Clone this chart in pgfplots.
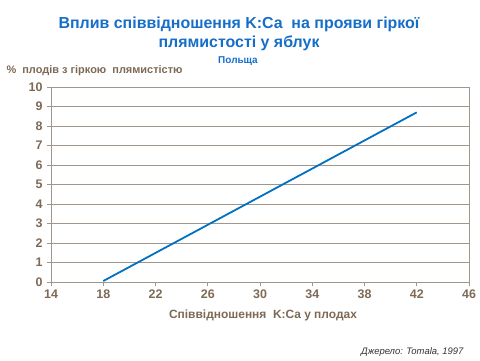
\documentclass[border=0pt]{standalone}
\usepackage{fontspec}
\setmainfont{Liberation Sans}
\usepackage{pgfplots}
\pgfplotsset{compat=1.18}
\definecolor{titleblue}{RGB}{22,110,200}
\definecolor{lineblue}{RGB}{0,112,192}
\definecolor{labcol}{RGB}{125,105,85}
\definecolor{gridcol}{RGB}{160,150,140}
\begin{document}
\begin{tikzpicture}[x=1bp,y=1bp]
\useasboundingbox (0,0) rectangle (480,360);
\begin{axis}[
  at={(51bp,78bp)}, anchor=south west,
  scale only axis, width=418bp, height=195bp,
  xmin=14, xmax=46, ymin=0, ymax=10,
  xtick={14,18,...,46}, ytick={0,1,...,10},
  ymajorgrids, grid style={gridcol, line width=0.6pt},
  axis line style={gridcol, line width=0.8pt},
  tick style={gridcol, line width=0.8pt},
  tick align=outside, major tick length=4bp,
  xtick pos=bottom, ytick pos=left,
  /pgf/number format/assume math mode=true,
  tick label style={font=\bfseries\fontsize{12.5}{14}\selectfont, text=labcol},
  yticklabel style={xshift=-1bp},
]
\addplot[lineblue, line width=1.8pt] coordinates {(18,0.05) (42,8.7)};
\end{axis}
\node[font=\bfseries\fontsize{16}{19}\selectfont, text=titleblue, align=center] at (239,326) {Вплив співвідношення K:Ca\ \ на прояви гіркої\\плямистості у яблук};
\node[font=\bfseries\fontsize{10}{12}\selectfont, text=titleblue] at (238,299) {Польща};
\node[font=\bfseries\fontsize{11}{13}\selectfont, text=labcol, anchor=west] at (3,289) {\%\ \ плодів з гіркою\ \ плямистістю};
\node[font=\bfseries\fontsize{12}{14}\selectfont, text=labcol] at (263,45) {Співвідношення\ \ K:Ca у плодах};
\node[font=\itshape\fontsize{9.5}{11}\selectfont, text=black!80, anchor=east] at (467,8) {Джерело: Tomala, 1997};
\end{tikzpicture}
\end{document}
